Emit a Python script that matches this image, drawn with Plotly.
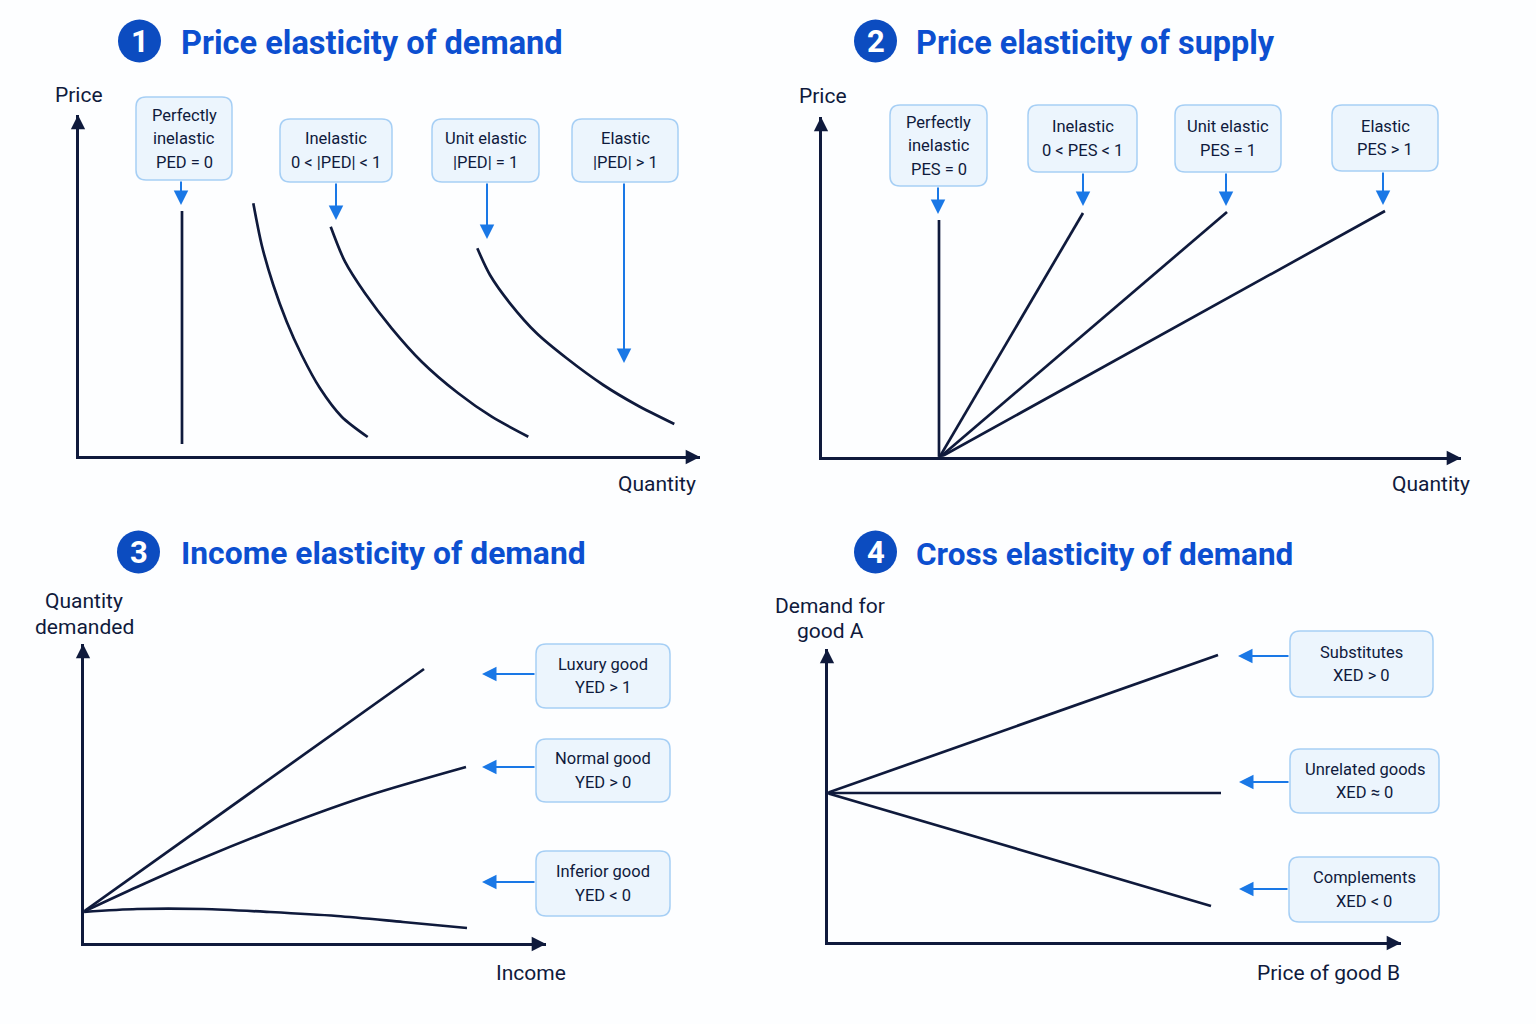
import plotly.graph_objects as go

W, H = 1536, 1024
INK = "#0f1a3c"
BLUE = "#1a78e6"
TITLE = "#0c4fd0"
BADGE = "#0c4cc0"
FONT = "Roboto"

# ---- chart data: curve values, measured from each panel's origin ----
ped_perfect_q = [104, 104]
ped_perfect_p = [246, 13]
ped_inelastic_q = [175.3, 183.7, 195.3, 208.7, 223.7, 242, 263.7, 289.7]
ped_inelastic_p = [253.7, 212, 172, 135.3, 102, 68.7, 40.3, 20]
ped_unit_q = [252.7, 267, 287, 313.7, 343.7, 380.3, 413.7, 450.3]
ped_unit_p = [230.3, 195.3, 163.7, 128.7, 95.3, 63.7, 40.3, 20.3]
ped_elastic_q = [399.3, 412, 432, 458.7, 488.7, 525.3, 558.7, 596.3]
ped_elastic_p = [208.7, 182, 153.7, 123.7, 98.7, 72, 52, 33]

pes_perfect_q = [118, 118]
pes_perfect_p = [0, 238]
pes_inelastic_q = [118, 262]
pes_inelastic_p = [0, 245]
pes_unit_q = [118, 406]
pes_unit_p = [0, 246]
pes_elastic_q = [118, 564]
pes_elastic_p = [0, 247]

yed_luxury_i = [0, 341]
yed_luxury_q = [32, 275]
yed_normal_i = [0, 54, 120, 200, 287, 383]
yed_normal_q = [32, 57, 86, 118, 149, 177]
yed_inferior_i = [0, 54, 120, 187, 254, 320, 384]
yed_inferior_q = [32, 35, 35, 32, 28, 22, 16]

xed_subs_p = [0, 391]
xed_subs_d = [150, 288]
xed_unrel_p = [0, 394]
xed_unrel_d = [150, 150]
xed_comp_p = [0, 384]
xed_comp_d = [150, 37]

titles = ["Price elasticity of demand", "Price elasticity of supply",
          "Income elasticity of demand", "Cross elasticity of demand"]
ped_labels = [["Perfectly", "inelastic", "PED = 0"], ["Inelastic", "0 < |PED| < 1"],
              ["Unit elastic", "|PED| = 1"], ["Elastic", "|PED| > 1"]]
pes_labels = [["Perfectly", "inelastic", "PES = 0"], ["Inelastic", "0 < PES < 1"],
              ["Unit elastic", "PES = 1"], ["Elastic", "PES > 1"]]
yed_labels = [["Luxury good", "YED > 1"], ["Normal good", "YED > 0"], ["Inferior good", "YED < 0"]]
xed_labels = [["Substitutes", "XED > 0"], ["Unrelated goods", "XED ≈ 0"], ["Complements", "XED < 0"]]

# ---- layout geometry (page pixels) ----
# origin x, origin y, x-axis tip, y-axis tip
panels = [(78, 457, 700, 115), (821, 458, 1461, 117), (83, 944, 546, 644), (827, 943, 1401, 649)]
badges = [(139.5, 41, 178.5), (875.5, 41, 913.5), (138.5, 552, 178.5), (875.5, 552, 913.5)]
title_y = [43, 43, 553, 554]
title_size = [32.6, 32.4, 31.8, 31.5]

boxes = [
    [(136, 97, 232, 180), (280, 119, 392, 182), (432, 119, 539, 182), (572, 119, 678, 182)],
    [(890, 105, 987, 186), (1028, 105, 1137, 172), (1175, 105, 1281, 172), (1332, 105, 1438, 171)],
    [(536, 644, 670, 708), (536, 739, 670, 802), (536, 851, 670, 916)],
    [(1290, 631, 1433, 697), (1290, 749, 1439, 813), (1289, 857, 1439, 922)],
]
# tail x, tail y, head x, head y
arrows = [
    (181, 180, 181, 205), (336, 182, 336, 220), (487, 182, 487, 239), (624, 182, 624, 363),
    (938, 186, 938, 214), (1083, 172, 1083, 206), (1226, 172, 1226, 206), (1383, 171, 1383, 205),
    (536, 674, 482, 674), (536, 767, 482, 767), (536, 882, 482, 882),
    (1290, 656, 1238, 656), (1290, 782, 1239, 782), (1289, 889, 1239, 889),
]
axis_labels = [
    (["Price"], 79, 95, "center"), (["Quantity"], 697.5, 484, "right"),
    (["Price"], 823, 96, "center"), (["Quantity"], 1471.5, 484, "right"),
    (["Quantity", "demanded"], 84, 614, "center"), (["Income"], 568, 973, "right"),
    (["Demand for", "good A"], 830, 618.5, "center"), (["Price of good B"], 1402, 973, "right"),
]

def px(x):
    return x / W

def py(y):
    return 1 - y / H

def text_lines(lines, x, y, spacing, anchor, size):
    """One annotation per line so the line spacing can match the reference."""
    out = []
    for k, line in enumerate(lines):
        out.append(dict(xref="paper", yref="paper", x=px(x), y=py(y + (k - (len(lines) - 1) / 2) * spacing),
                        text=line, showarrow=False, xanchor=anchor, yanchor="middle", align="center",
                        font=dict(size=size, color=INK, family=FONT)))
    return out

fig = go.Figure()
curves = [
    [(ped_perfect_q, ped_perfect_p), (ped_inelastic_q, ped_inelastic_p), (ped_unit_q, ped_unit_p), (ped_elastic_q, ped_elastic_p)],
    [(pes_perfect_q, pes_perfect_p), (pes_inelastic_q, pes_inelastic_p), (pes_unit_q, pes_unit_p), (pes_elastic_q, pes_elastic_p)],
    [(yed_luxury_i, yed_luxury_q), (yed_normal_i, yed_normal_q), (yed_inferior_i, yed_inferior_q)],
    [(xed_subs_p, xed_subs_d), (xed_unrel_p, xed_unrel_d), (xed_comp_p, xed_comp_d)],
]

layout = dict(
    width=W, height=H, autosize=False, margin=dict(l=0, r=0, t=0, b=0),
    paper_bgcolor="#fdfeff", plot_bgcolor="rgba(0,0,0,0)", showlegend=False,
    font=dict(family=FONT, color=INK),
)
shapes, annotations = [], []
AXW = 2.5
OFF = 1.25  # axis lines sit outside the plot area; inset so they centre on the origin

for i, (ox, oy, tx, ty) in enumerate(panels):
    s = "" if i == 0 else str(i + 1)
    layout[f"xaxis{s}"] = dict(
        domain=[px(ox + OFF), px(tx)], range=[OFF, tx - ox], anchor=f"y{s}", showgrid=False, zeroline=False,
        showticklabels=False, ticks="", showline=True, linecolor=INK, linewidth=AXW, fixedrange=True)
    layout[f"yaxis{s}"] = dict(
        domain=[py(oy - OFF), py(ty)], range=[OFF, oy - ty], anchor=f"x{s}", showgrid=False, zeroline=False,
        showticklabels=False, ticks="", showline=True, linecolor=INK, linewidth=AXW, fixedrange=True)
    for xs, ys in curves[i]:
        fig.add_trace(go.Scatter(x=xs, y=ys, mode="lines", xaxis=f"x{s}", yaxis=f"y{s}",
                                 cliponaxis=False, hoverinfo="skip",
                                 line=dict(color=INK, width=2.7, shape="spline", smoothing=0.8)))
    # axis arrowheads
    for (hx, hy, dx, dy) in [(tx, oy, -10, 0), (ox, ty, 0, 10)]:
        annotations.append(dict(xref="paper", yref="paper", x=px(hx), y=py(hy), ax=dx, ay=dy,
                                text="", showarrow=True, arrowhead=2,
                                arrowsize=1.1, arrowwidth=2.6, arrowcolor=INK, standoff=0))
    # section title with numbered badge
    cx, cy, tx0 = badges[i]
    shapes.append(dict(type="circle", xref="paper", yref="paper", x0=px(cx - 21.5), x1=px(cx + 21.5),
                       y0=py(cy + 21.5), y1=py(cy - 21.5), fillcolor=BADGE, line=dict(width=0)))
    annotations.append(dict(xref="paper", yref="paper", x=px(cx), y=py(cy), text=f"<b>{i + 1}</b>", showarrow=False,
                            font=dict(size=31, color="white", family=FONT), xanchor="center", yanchor="middle"))
    annotations.append(dict(xref="paper", yref="paper", x=px(tx0), y=py(title_y[i]), text=f"<b>{titles[i]}</b>",
                            showarrow=False, font=dict(size=title_size[i], color=TITLE, family=FONT),
                            xanchor="left", yanchor="middle"))

# callout boxes with rounded corners
all_labels = [ped_labels, pes_labels, yed_labels, xed_labels]
R = 10
for group, labels in zip(boxes, all_labels):
    for (l, t, r, b), label in zip(group, labels):
        x0, x1, y0, y1 = px(l), px(r), py(b), py(t)
        rx, ry = R / W, R / H
        path = (f"M {x0 + rx} {y1} L {x1 - rx} {y1} Q {x1} {y1} {x1} {y1 - ry} L {x1} {y0 + ry} "
                f"Q {x1} {y0} {x1 - rx} {y0} L {x0 + rx} {y0} Q {x0} {y0} {x0} {y0 + ry} "
                f"L {x0} {y1 - ry} Q {x0} {y1} {x0 + rx} {y1} Z")
        shapes.append(dict(type="path", path=path, xref="paper", yref="paper",
                           fillcolor="#ecf5fd", line=dict(color="#a6cff5", width=1.5)))
        annotations.extend(text_lines(label, (l + r) / 2, (t + b) / 2, 23.5, "center", 16.5))

for (x0, y0, x1, y1) in arrows:
    annotations.append(dict(xref="paper", yref="paper", x=px(x1), y=py(y1), ax=x0 - x1, ay=y0 - y1,
                            text="", showarrow=True, arrowhead=2, arrowsize=1.45, arrowwidth=2,
                            arrowcolor=BLUE, standoff=0))

for lines, x, y, anchor in axis_labels:
    annotations.extend(text_lines(lines, x, y, 25.5, anchor, 21))

layout["shapes"] = shapes
layout["annotations"] = annotations
fig.update_layout(**layout)
fig.write_html("out.html", config=dict(displayModeBar=False),
               post_script="document.body.style.margin='0';")
